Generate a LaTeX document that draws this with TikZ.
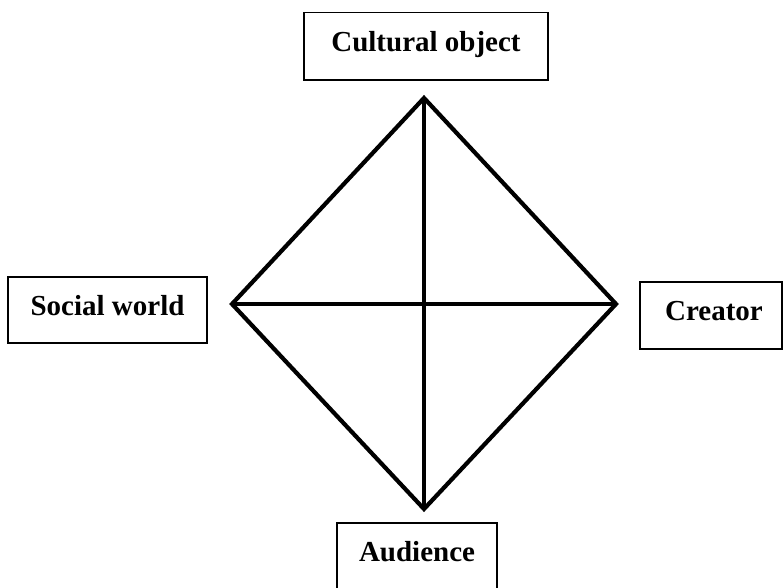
\documentclass[tikz,border=0pt]{standalone}
\usepackage{fontspec}
\setmainfont{Liberation Serif}
\begin{document}
\begin{tikzpicture}[x=1pt,y=-1pt,
  labelbox/.style={draw=black, line width=1.3pt, inner sep=0pt,
    font=\fontsize{29}{32}\selectfont\bfseries,
    text height=17pt, text depth=7pt},
  edge/.style={line width=4.2pt, line join=miter}]
\useasboundingbox (0,0) rectangle (783,587);
\node[labelbox, minimum width=244pt, minimum height=67.3pt] (co) at (426,46.3) {Cultural object};
\node[labelbox, minimum width=199pt, minimum height=66pt] (sw) at (107.5,310) {Social world};
\node[labelbox, minimum width=142pt, minimum height=67pt] (cr) at (711,315.5) {\hspace{6pt}Creator};
\node[labelbox, minimum width=160pt, minimum height=66pt] (au) at (417,556) {Audience};
\coordinate (T) at (424,98);
\coordinate (B) at (424,509);
\coordinate (L) at (232,304);
\coordinate (R) at (616,304);
\draw[edge] (T) -- (R) -- (B) -- (L) -- cycle;
\draw[edge] (T) -- (B);
\draw[edge] (L) -- (R);
\end{tikzpicture}
\end{document}
